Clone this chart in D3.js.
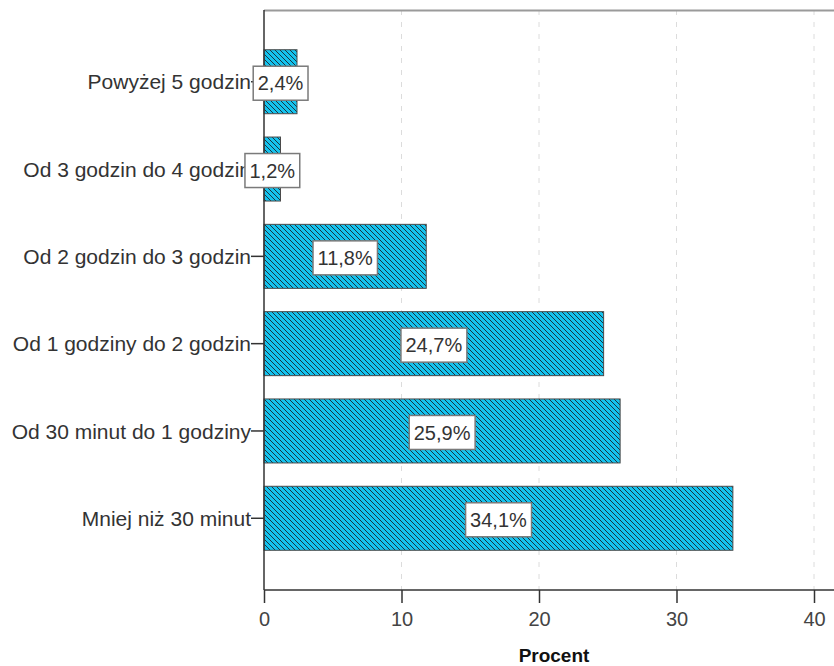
<!DOCTYPE html>
<html>
<head>
<meta charset="utf-8">
<script src="https://cdn.jsdelivr.net/npm/d3@7"></script>
<style>
  html, body { margin: 0; padding: 0; background: #fff; }
  svg { display: block; font-family: "Liberation Sans", Arial, sans-serif; }
</style>
</head>
<body>
<svg id="chart" width="834" height="666"></svg>
<script>
// Czas spędzany dziennie – rozkład procentowy
const categories = [
  "Powyżej 5 godzin",
  "Od 3 godzin do 4 godzin",
  "Od 2 godzin do 3 godzin",
  "Od 1 godziny do 2 godzin",
  "Od 30 minut do 1 godziny",
  "Mniej niż 30 minut"
];
const percents = [2.4, 1.2, 11.8, 24.7, 25.9, 34.1];
const xTicks = [0, 10, 20, 30, 40];
const xTitle = "Procent";

const svg = d3.select("#chart");
const W = 834, H = 666;
const plotLeft = 264, plotTop = 10, plotBottom = 590;

const x = d3.scaleLinear().domain([0, 40]).range([plotLeft, 814]);
const y = d3.scaleBand()
  .domain(categories)
  .range([plotTop, plotBottom])
  .paddingInner(0.267)
  .paddingOuter(0.455);

// diagonal hatch fill
const P = 5;
const defs = svg.append("defs");
const pat = defs.append("pattern")
  .attr("id", "hatch")
  .attr("patternUnits", "userSpaceOnUse")
  .attr("width", P).attr("height", P);
pat.append("rect").attr("width", P).attr("height", P).attr("fill", "#14c3ee");
pat.append("path")
  .attr("d", `M-1,-1 L${P + 1},${P + 1} M-1,${P - 1} L1,${P + 1} M${P - 1},-1 L${P + 1},1`)
  .attr("stroke", "#1b3441")
  .attr("stroke-width", 1.2)
  .attr("shape-rendering", "crispEdges");

// vertical dashed gridlines
svg.append("g").selectAll("line")
  .data(xTicks.filter(d => d > 0))
  .join("line")
  .attr("x1", d => x(d)).attr("x2", d => x(d))
  .attr("y1", plotTop).attr("y2", plotBottom)
  .attr("stroke", "#dcdcdc")
  .attr("stroke-width", 1)
  .attr("stroke-dasharray", "5,7");

// frame top line
svg.append("line")
  .attr("x1", plotLeft).attr("x2", W)
  .attr("y1", plotTop + 0.5).attr("y2", plotTop + 0.5)
  .attr("stroke", "#9a9a9a").attr("stroke-width", 2);

// bars
svg.append("g").selectAll("rect")
  .data(categories)
  .join("rect")
  .attr("x", plotLeft)
  .attr("y", d => y(d))
  .attr("width", (d, i) => x(percents[i]) - plotLeft)
  .attr("height", y.bandwidth())
  .attr("fill", "url(#hatch)")
  .attr("stroke", "#4a4a4a")
  .attr("stroke-width", 1);

// x axis
const xAxis = svg.append("g")
  .attr("transform", `translate(0,${plotBottom})`)
  .call(d3.axisBottom(x).tickValues(xTicks).tickSize(13).tickPadding(9).tickFormat(d3.format("d")));
xAxis.select(".domain").remove();
xAxis.selectAll(".tick line").attr("stroke", "#333").attr("stroke-width", 1.5);
xAxis.selectAll(".tick text")
  .attr("fill", "#444")
  .style("font-size", "20px")
  .style("font-family", "'Liberation Sans', Arial, sans-serif");
svg.append("line")
  .attr("x1", plotLeft).attr("x2", W)
  .attr("y1", plotBottom).attr("y2", plotBottom)
  .attr("stroke", "#333").attr("stroke-width", 1.5);

// y axis
const yAxis = svg.append("g")
  .attr("transform", `translate(${plotLeft},0)`)
  .call(d3.axisLeft(y).tickSize(13).tickPadding(0));
yAxis.select(".domain").remove();
yAxis.selectAll(".tick line").attr("stroke", "#333").attr("stroke-width", 1.5);
yAxis.selectAll(".tick text")
  .attr("fill", "#333")
  .attr("dy", "0.36em")
  .style("font-size", "21px")
  .style("font-family", "'Liberation Sans', Arial, sans-serif");
svg.append("line")
  .attr("x1", plotLeft).attr("x2", plotLeft)
  .attr("y1", plotTop).attr("y2", plotBottom)
  .attr("stroke", "#333").attr("stroke-width", 1.5);

// axis title
svg.append("text")
  .attr("x", 554).attr("y", 662)
  .attr("text-anchor", "middle")
  .attr("fill", "#111")
  .style("font-size", "19px")
  .style("font-weight", "bold")
  .text(xTitle);

// value labels in boxes, centred on each bar
const fmt = v => d3.format(".1f")(v).replace(".", ",") + "%";
const lbl = svg.append("g").selectAll("g")
  .data(categories)
  .join("g")
  .attr("transform", (d, i) => `translate(${(plotLeft + x(percents[i])) / 2},${y(d) + y.bandwidth() / 2 + 1.5})`);
lbl.append("text")
  .attr("text-anchor", "middle")
  .attr("dy", "0.36em")
  .attr("fill", "#333")
  .style("font-size", "20px")
  .text((d, i) => fmt(percents[i]));
lbl.each(function () {
  const g = d3.select(this);
  const b = g.select("text").node().getBBox();
  g.insert("rect", "text")
    .attr("x", b.x - 4.5).attr("y", -17)
    .attr("width", b.width + 9).attr("height", 34)
    .attr("fill", "#fff")
    .attr("stroke", "#7a7a7a")
    .attr("stroke-width", 1.5);
});
</script>
</body>
</html>
